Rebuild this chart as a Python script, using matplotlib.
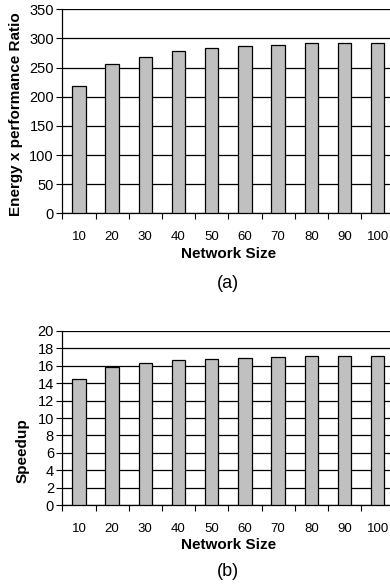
import matplotlib
matplotlib.use("Agg")
import matplotlib.pyplot as plt
import numpy as np

plt.rcParams['font.family'] = ['Liberation Sans', 'DejaVu Sans']

network_sizes = ["10", "20", "30", "40", "50", "60", "70", "80", "90", "100"]
energy_perf_ratio = [218, 256, 268, 279, 283, 287, 289, 292, 293, 293]
speedup = [14.5, 15.8, 16.3, 16.7, 16.75, 16.9, 17.0, 17.07, 17.07, 17.15]

W, H = 390, 586
fig = plt.figure(figsize=(W / 100, H / 100), dpi=100)


def px_axes(left, top, right, bottom):
    return fig.add_axes([left / W, 1 - bottom / H, (right - left) / W, (bottom - top) / H])


def style(ax, values, ymax, ystep, ylabel):
    x = np.arange(len(values))
    ax.set_axisbelow(True)
    ax.bar(x, values, width=0.4, color="#C0C0C0", edgecolor="black", linewidth=0.9, zorder=3)
    ax.set_xlim(-0.5, len(values) - 0.5)
    ax.set_ylim(0, ymax)
    ax.set_yticks(np.arange(0, ymax + ystep / 2, ystep))
    ax.yaxis.grid(True, color="black", linewidth=0.9)
    ax.set_xticks(x)
    ax.set_xticklabels(network_sizes)
    ax.set_xticks(np.arange(-0.5, len(values), 1.0), minor=True)
    ax.tick_params(axis="x", which="major", length=0, pad=13, labelsize=9.5)
    ax.tick_params(axis="x", which="minor", length=4, width=0.8, direction="out")
    ax.tick_params(axis="y", length=4, width=0.8, pad=2, labelsize=10.5)
    for s in ("top", "right"):
        ax.spines[s].set_visible(False)
    for s in ("left", "bottom"):
        ax.spines[s].set_linewidth(0.9)
    ax.set_xlabel("Network Size", fontsize=11, fontweight="bold")
    ax.set_ylabel(ylabel, fontsize=11, fontweight="bold")
    return ax


ax1 = px_axes(62.3, 9.3, 394.3, 213.3)
style(ax1, energy_perf_ratio, 350, 50, "Energy x performance Ratio")
ax1.xaxis.set_label_coords(0.5, (213.3 - 247) / 204.0)
ax1.yaxis.set_label_coords((23 - 62.3) / 332.0, (213.3 - 114) / 204.0)
ax1.text(0.5, (213.3 - 283) / 204.0, "(a)", transform=ax1.transAxes, ha="center", va="center", fontsize=13)

ax2 = px_axes(62.3, 330.7, 394.3, 505.3)
style(ax2, speedup, 20, 2, "Speedup")
ax2.xaxis.set_label_coords(0.5, (505.3 - 538) / 174.6)
ax2.yaxis.set_label_coords((30 - 62.3) / 332.0, (505.3 - 451) / 174.6)
ax2.text(0.5, (505.3 - 571) / 174.6, "(b)", transform=ax2.transAxes, ha="center", va="center", fontsize=13)

fig.savefig("out.png", dpi=100)
